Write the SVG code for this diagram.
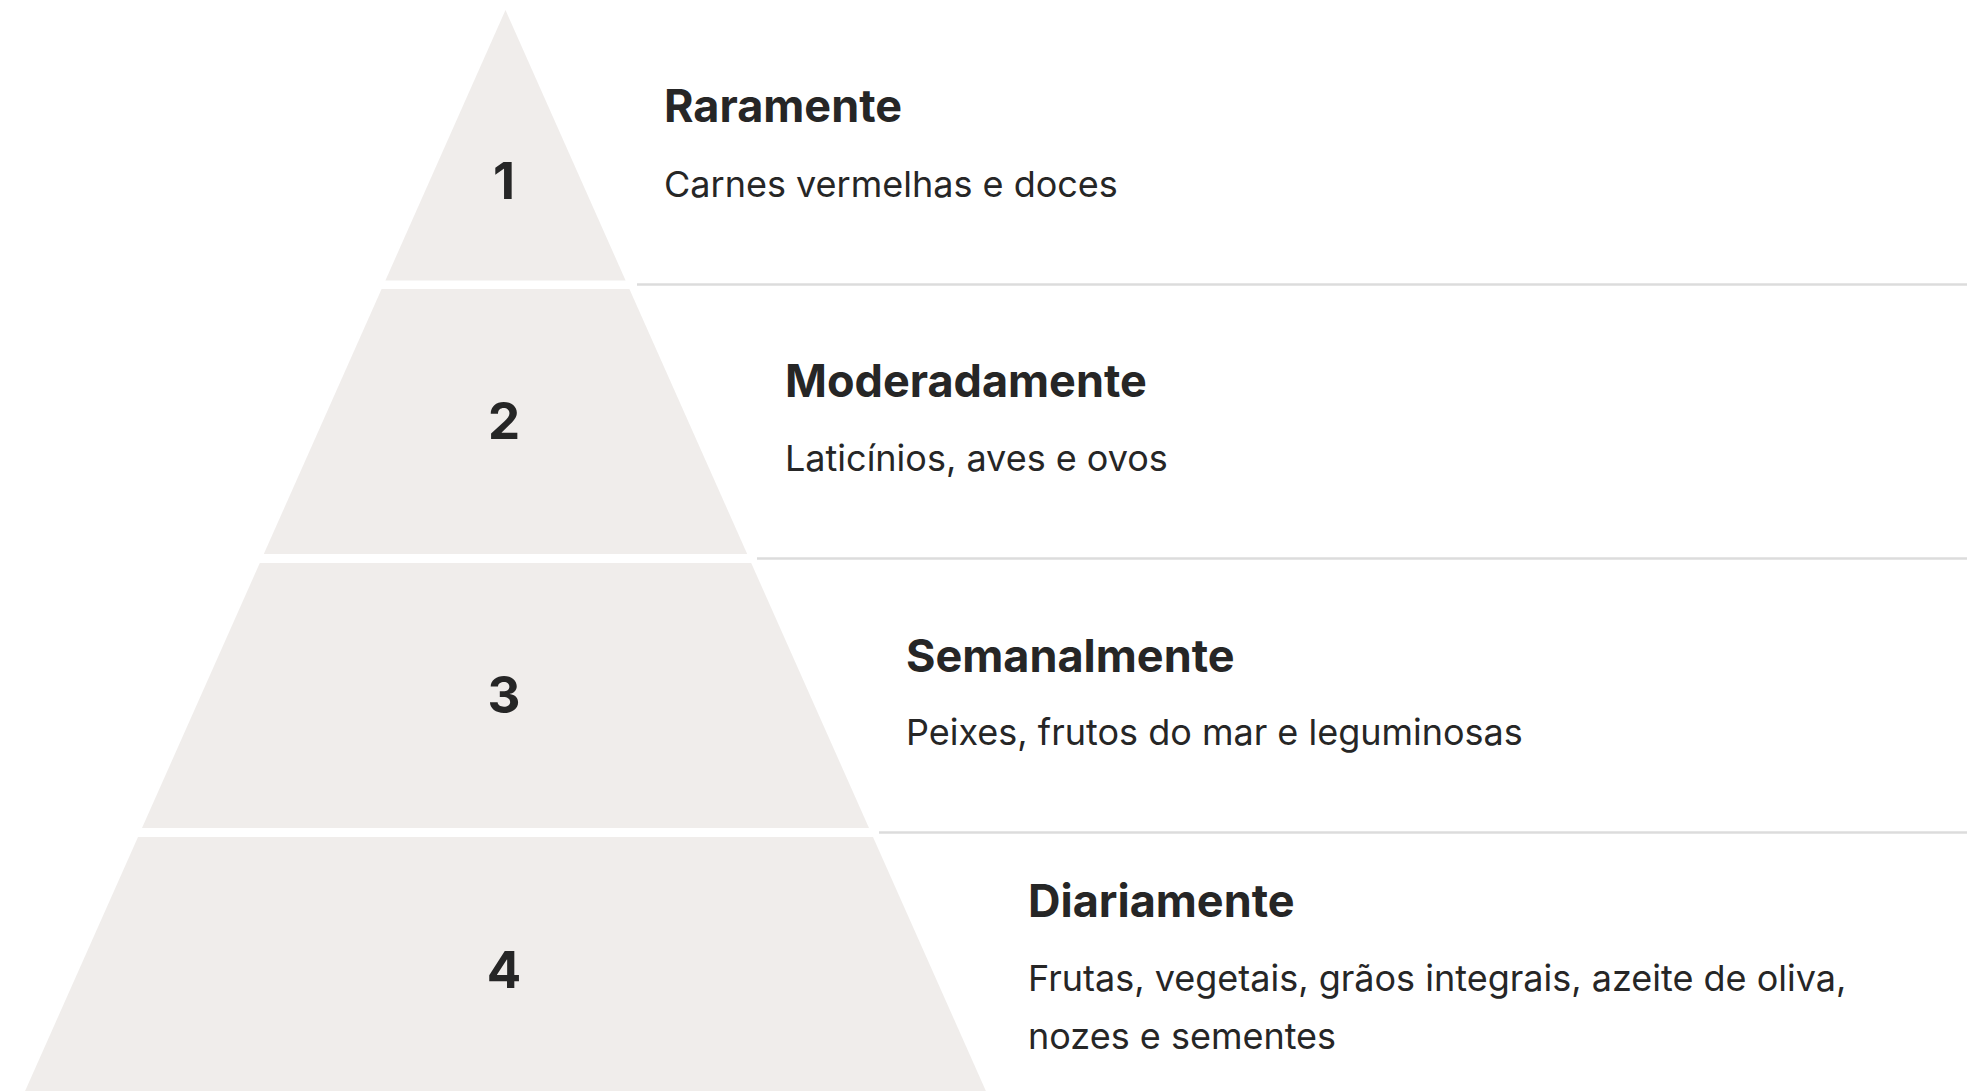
<svg xmlns="http://www.w3.org/2000/svg" width="1967" height="1091" viewBox="0 0 1967 1091">
<style>
.tier{fill:#f0edeb}
.num{font-family:Inter,"Liberation Sans",sans-serif;font-weight:700;font-size:51px;fill:#262626;text-anchor:middle}
.title{font-family:Inter,"Liberation Sans",sans-serif;font-weight:700;font-size:45px;fill:#262626}
.desc{font-family:Inter,"Liberation Sans",sans-serif;font-weight:400;font-size:36px;fill:#262626}
.sep{stroke:#dcdcdc;stroke-width:2.5;fill:none}
</style>
<rect width="1967" height="1091" fill="#ffffff"/>
<g id="connectors">
<line class="sep" x1="637" y1="284.6" x2="1967" y2="284.6"/>
<line class="sep" x1="757" y1="558.5" x2="1967" y2="558.5"/>
<line class="sep" x1="879" y1="832.5" x2="1967" y2="832.5"/>
</g>
<g id="tier1">
<polygon class="tier" points="505.5,10 625.6,280.5 385.4,280.5"/>
<text class="num" x="504" y="199">1</text>
<text class="title" x="664" y="122">Raramente</text>
<text class="desc" x="664" y="197">Carnes vermelhas e doces</text>
</g>
<g id="tier2">
<polygon class="tier" points="381.6,289 629.4,289 747.2,554 263.8,554"/>
<text class="num" x="504" y="439">2</text>
<text class="title" x="785" y="397">Moderadamente</text>
<text class="desc" x="785" y="471">Laticínios, aves e ovos</text>
</g>
<g id="tier3">
<polygon class="tier" points="259.8,563 751.2,563 869,828 142,828"/>
<text class="num" x="504" y="713">3</text>
<text class="title" x="906" y="672">Semanalmente</text>
<text class="desc" x="906" y="745">Peixes, frutos do mar e leguminosas</text>
</g>
<g id="tier4">
<polygon class="tier" points="138,837 873,837 990.8,1102 20.2,1102"/>
<text class="num" x="504" y="988">4</text>
<text class="title" x="1028" y="917">Diariamente</text>
<text class="desc" x="1028" y="991">Frutas, vegetais, grãos integrais, azeite de oliva,</text>
<text class="desc" x="1028" y="1049">nozes e sementes</text>
</g>
</svg>
